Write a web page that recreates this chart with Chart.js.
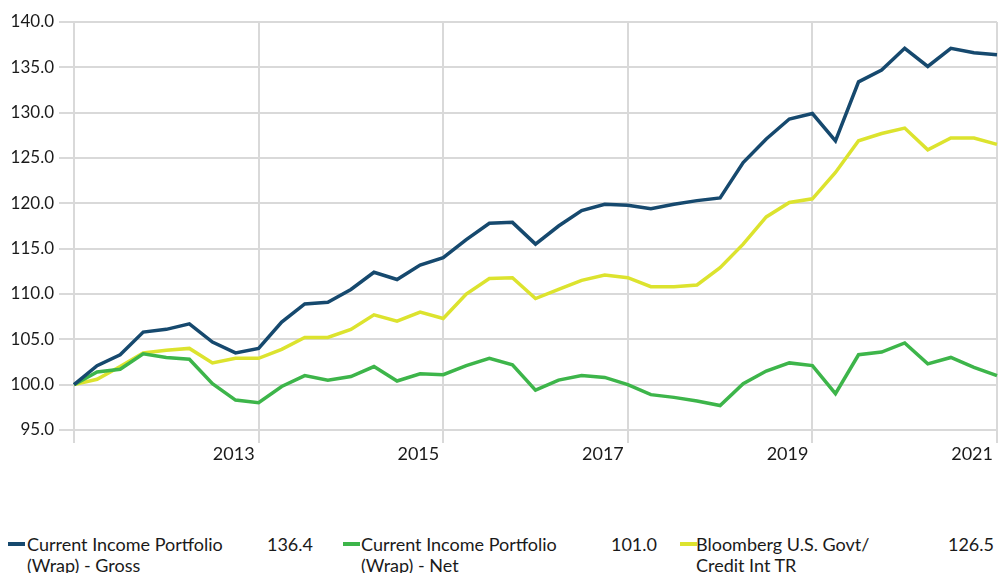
<!DOCTYPE html>
<html>
<head>
<meta charset="utf-8">
<script src="https://cdn.jsdelivr.net/npm/chart.js@4/dist/chart.umd.min.js"></script>
<style>
  html, body { margin: 0; padding: 0; background: #fff; }
  body { width: 1008px; height: 573px; overflow: hidden; position: relative; font-family: Lato, sans-serif; color: #1a1a1a; }
  #wrap { position: absolute; left: 0; top: 0; width: 1008px; height: 480px; }
  .item { position: absolute; top: 534px; font-size: 18px; line-height: 21px; }
  .mark { position: absolute; top: 8px; width: 17px; height: 4px; }
  .name { position: absolute; white-space: nowrap; }
  .val { position: absolute; top: 0; text-align: right; white-space: nowrap; }
</style>
</head>
<body>
<div id="wrap"><canvas id="myChart"></canvas></div>
<div id="legend"></div>
<script>
'use strict'

// quarterly observations, growth of 100
const quarters = [
    '2011-01', '2011-04', '2011-07', '2011-10',
    '2012-01', '2012-04', '2012-07', '2012-10',
    '2013-01', '2013-04', '2013-07', '2013-10',
    '2014-01', '2014-04', '2014-07', '2014-10',
    '2015-01', '2015-04', '2015-07', '2015-10',
    '2016-01', '2016-04', '2016-07', '2016-10',
    '2017-01', '2017-04', '2017-07', '2017-10',
    '2018-01', '2018-04', '2018-07', '2018-10',
    '2019-01', '2019-04', '2019-07', '2019-10',
    '2020-01', '2020-04', '2020-07', '2020-10',
    '2021-01'
]

const gross = [
    100.0, 102.1, 103.3, 105.8, 106.1, 106.7, 104.7, 103.5,
    104.0, 106.9, 108.9, 109.1, 110.5, 112.4, 111.6, 113.2,
    114.0, 116.0, 117.8, 117.9, 115.5, 117.5, 119.2, 119.9,
    119.8, 119.4, 119.9, 120.3, 120.6, 124.5, 127.1, 129.3,
    129.9, 126.9, 133.4, 134.7, 137.1, 135.1, 137.1, 136.6,
    136.4
]
const net = [
    100.0, 101.4, 101.7, 103.4, 103.0, 102.8, 100.1, 98.3,
    98.0, 99.8, 101.0, 100.5, 100.9, 102.0, 100.4, 101.2,
    101.1, 102.1, 102.9, 102.2, 99.4, 100.5, 101.0, 100.8,
    100.0, 98.9, 98.6, 98.2, 97.7, 100.1, 101.5, 102.4,
    102.1, 99.0, 103.3, 103.6, 104.6, 102.3, 103.0, 101.9,
    101.0
]
const benchmark = [
    100.0, 100.6, 102.0, 103.5, 103.8, 104.0, 102.4, 102.9,
    102.9, 103.9, 105.2, 105.2, 106.1, 107.7, 107.0, 108.0,
    107.3, 110.0, 111.7, 111.8, 109.5, 110.5, 111.5, 112.1,
    111.8, 110.8, 110.8, 111.0, 112.9, 115.5, 118.5, 120.1,
    120.5, 123.4, 126.9, 127.7, 128.3, 125.9, 127.2, 127.2,
    126.5
]

const seriesNames = [
    ['Current Income Portfolio', '(Wrap) - Gross'],
    ['Current Income Portfolio', '(Wrap) - Net'],
    ['Bloomberg U.S. Govt/', 'Credit Int TR']
]
const seriesColors = ['#16496e', '#3db54a', '#dce32e']
const seriesData = [gross, net, benchmark]

const yMin = 95
const yMax = 140
const yStep = 5

const gridColor = '#d9d9d9'
const textColor = '#1a1a1a'

function yearTick(ctx) {
    return ctx.index % 8 === 0 ? gridColor : 'rgba(0,0,0,0)'
}

const datasets = []
for (let i = 0; i < seriesData.length; i++) {
    datasets.push({
        label: seriesNames[i].join(' '),
        data: seriesData[i],
        borderColor: seriesColors[i],
        backgroundColor: seriesColors[i],
        borderWidth: 3.5,
        pointRadius: 0,
        tension: 0,
        fill: false
    })
}

const config = {
    type: 'line',
    data: { labels: quarters, datasets: datasets },
    options: {
        responsive: true,
        maintainAspectRatio: false,
        animation: false,
        layout: { padding: { top: 22, right: 11, bottom: 0, left: 0 } },
        plugins: {
            legend: { display: false },
            tooltip: { enabled: false }
        },
        scales: {
            x: {
                type: 'category',
                border: { display: false },
                grid: { color: yearTick, tickColor: yearTick, lineWidth: 2, tickLength: 13 },
                ticks: {
                    autoSkip: false,
                    maxRotation: 0,
                    align: 'end',
                    labelOffset: -4,
                    padding: 0,
                    color: textColor,
                    font: { family: 'Lato', size: 18 },
                    callback: function (val, idx) {
                        return idx % 8 === 0 && idx > 0 ? quarters[idx].slice(0, 4) : ''
                    }
                },
                afterFit: function (scale) { scale.height = 50 }
            },
            y: {
                min: yMin,
                max: yMax,
                border: { display: false },
                grid: { color: gridColor, lineWidth: 2, tickLength: 15 },
                ticks: {
                    stepSize: yStep,
                    padding: 5,
                    color: textColor,
                    font: { family: 'Lato', size: 17 },
                    callback: function (v) { return v.toFixed(1) }
                },
                afterFit: function (scale) { scale.width = 74 }
            }
        }
    }
}

const myChart = new Chart(document.getElementById('myChart'), config)

// legend row under the plot
const legend = document.getElementById('legend')
const colLeft = [8, 343, 680]
const textLeft = [27, 361, 696]
const valueRight = [313, 657, 994]
for (let i = 0; i < seriesData.length; i++) {
    const item = document.createElement('div')
    item.className = 'item'
    item.style.left = '0px'
    legend.appendChild(item)
    const mark = document.createElement('div')
    mark.className = 'mark'
    mark.style.left = colLeft[i] + 'px'
    mark.style.background = seriesColors[i]
    item.appendChild(mark)
    const name = document.createElement('div')
    name.className = 'name'
    name.style.left = textLeft[i] + 'px'
    name.innerHTML = seriesNames[i].join('<br>')
    item.appendChild(name)
    const val = document.createElement('div')
    val.className = 'val'
    val.style.left = (valueRight[i] - 80) + 'px'
    val.style.width = '80px'
    val.textContent = seriesData[i][seriesData[i].length - 1].toFixed(1)
    item.appendChild(val)
}
</script>
</body>
</html>
